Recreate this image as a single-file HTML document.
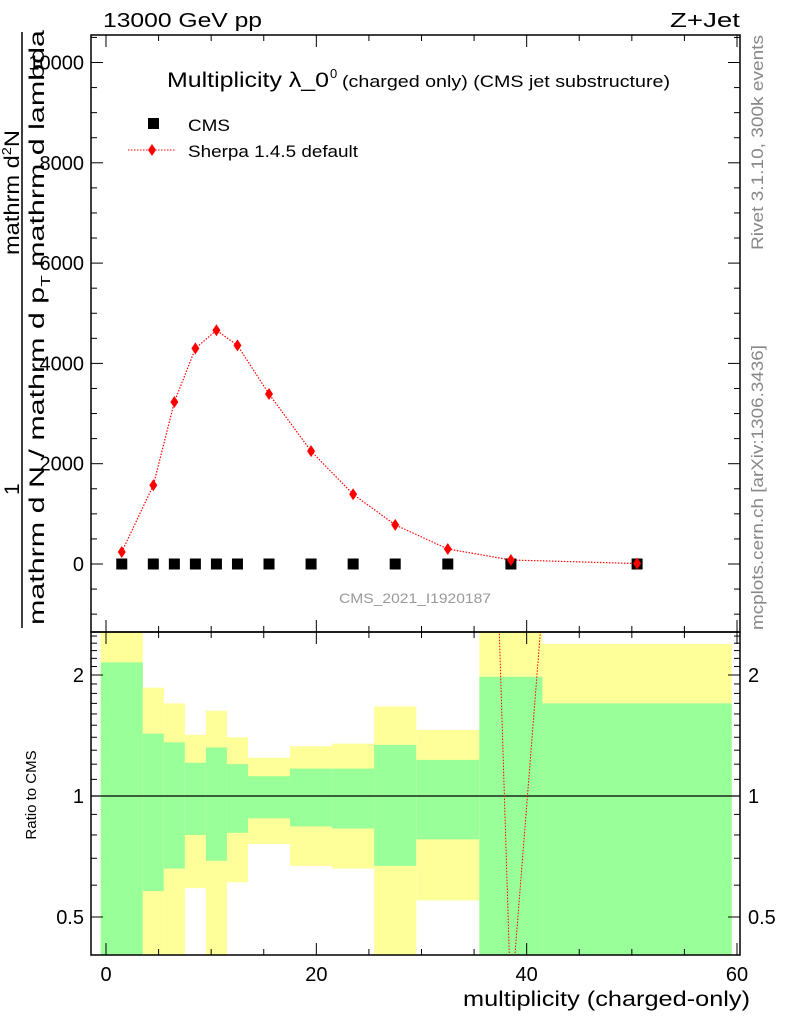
<!DOCTYPE html>
<html><head><meta charset="utf-8"><style>
body{margin:0;background:#fff}
svg{display:block;font-family:"Liberation Sans",sans-serif}
</style></head><body>
<svg id="chartsvg" width="786" height="1024" viewBox="0 0 786 1024" xmlns="http://www.w3.org/2000/svg">
<defs>
<clipPath id="rc"><rect x="91" y="632" width="649" height="323"/></clipPath>
<clipPath id="mc"><rect x="91" y="35" width="649" height="597"/></clipPath>
</defs>
<text x="103" y="27" font-size="20" textLength="159" lengthAdjust="spacingAndGlyphs">13000 GeV pp</text>
<text x="670" y="27" font-size="20" textLength="70" lengthAdjust="spacingAndGlyphs">Z+Jet</text>
<g>
<text x="167" y="87" font-size="21" textLength="162" lengthAdjust="spacingAndGlyphs">Multiplicity λ_0</text>
<text x="330" y="78" font-size="13">0</text>
<text x="342" y="87" font-size="17" textLength="328" lengthAdjust="spacingAndGlyphs">(charged only) (CMS jet substructure)</text>
</g>
<g>
<rect x="148" y="118" width="11" height="11" fill="#000"/>
<text x="188" y="131" font-size="17" textLength="42" lengthAdjust="spacingAndGlyphs">CMS</text>
<line x1="128" y1="150" x2="176" y2="150" stroke="red" stroke-dasharray="1.5,1.5"/>
<path d="M152,144 L156,150 L152,156 L148,150Z" fill="red"/>
<text x="188" y="157" font-size="17" textLength="170" lengthAdjust="spacingAndGlyphs">Sherpa 1.4.5 default</text>
</g>
<text x="339" y="603" font-size="14" fill="#999" textLength="152" lengthAdjust="spacingAndGlyphs">CMS_2021_I1920187</text>
<text transform="translate(763,250) rotate(-90)" font-size="17" fill="#888" textLength="215" lengthAdjust="spacingAndGlyphs">Rivet 3.1.10,  300k events</text>
<text transform="translate(763,630) rotate(-90)" font-size="17" fill="#888" textLength="285" lengthAdjust="spacingAndGlyphs">mcplots.cern.ch [arXiv:1306.3436]</text>
<g>
<text transform="translate(19,255) rotate(-90)" font-size="21" textLength="125" lengthAdjust="spacingAndGlyphs">mathrm d<tspan font-size="13" dy="-8">2</tspan><tspan dy="8">N</tspan></text>
<text transform="translate(19,495) rotate(-90)" font-size="21">1</text>
<line x1="22" y1="32" x2="22" y2="628" stroke="#000" stroke-width="1.5"/>
<text transform="translate(44,625) rotate(-90)" font-size="21" textLength="595" lengthAdjust="spacingAndGlyphs">mathrm d N / mathrm d p<tspan font-size="13" dy="6">T</tspan><tspan dy="-6">  mathrm d lambda</tspan></text>
</g>
<text transform="translate(36,795) rotate(-90)" font-size="15" text-anchor="middle">Ratio to CMS</text>
<text x="463" y="1006" font-size="21" textLength="287" lengthAdjust="spacingAndGlyphs">multiplicity (charged-only)</text>
<g id="bandsg" clip-path="url(#rc)"></g><g id="maing" clip-path="url(#mc)"></g><g id="axesg"></g>
</svg>
<script>
var xCenters=[1.5,4.5,6.5,8.5,10.5,12.5,15.5,19.5,23.5,27.5,32.5,38.5,50.5];
var cmsValues=[0,0,0,0,0,0,0,0,0,0,0,0,0];
var sherpaValues=[240,1570,3230,4300,4660,4360,3390,2250,1390,780,300,80,10];
var binEdges=[-0.5,3.5,5.5,7.5,9.5,11.5,13.5,17.5,21.5,25.5,29.5,35.5,41.5,59.5];
var greenUp=[2.15,1.43,1.36,1.21,1.32,1.20,1.12,1.17,1.17,1.34,1.23,1.98,1.70];
var greenLo=[0.3,0.58,0.66,0.80,0.69,0.81,0.88,0.84,0.83,0.67,0.78,0.3,0.3];
var yellowUp=[3,1.86,1.70,1.42,1.63,1.40,1.245,1.33,1.35,1.67,1.46,3,2.39];
var yellowLo=[0.3,0.3,0.3,0.59,0.3,0.61,0.76,0.67,0.66,0.3,0.55,0.3,0.3];
var ratioX=[32.5,38.5,50.5];
var ratioY=[35000,0.3,2900];
var xTicks=[0,20,40,60];
var yTicks=[0,2000,4000,6000,8000,10000];
var rTicks=[0.5,1,2];

(function(){
var NS="http://www.w3.org/2000/svg";
var PL=91,PR=740,PT=35,MB=632,RB=955;
function X(v){return 106+v*(631/60);}
function Y(v){return 564-v*0.05015;}
function RY(r){return 796-121*Math.log(r)/Math.LN2;}
function mk(p,tag,a){var e=document.createElementNS(NS,tag);for(var k in a)e.setAttribute(k,a[k]);p.appendChild(e);return e;}
var bands=document.getElementById('bandsg');
var main=document.getElementById('maing');
var ax=document.getElementById('axesg');
for(var i=0;i<binEdges.length-1;i++){
 var x1=X(binEdges[i]),x2=X(binEdges[i+1]);
 var yb=mk(bands,'rect',{x:x1,y:RY(yellowUp[i]),width:x2-x1,height:RY(yellowLo[i])-RY(yellowUp[i]),fill:'#ffff99'});
 
 
 var gb=mk(bands,'rect',{x:x1,y:RY(greenUp[i]),width:x2-x1,height:RY(greenLo[i])-RY(greenUp[i]),fill:'#99ff99'});
 
 
}
var rl=mk(bands,'line',{x1:PL,x2:PR,y1:RY(1),y2:RY(1),stroke:'#000','stroke-width':1.2});


var rpts=[];for(var j=0;j<ratioX.length;j++)rpts.push(X(ratioX[j])+','+RY(ratioY[j]));
var rline=mk(bands,'polyline',{points:rpts.join(' '),fill:'none',stroke:'red','stroke-dasharray':'1.5,1.5'});


var spts=[];for(var j=0;j<xCenters.length;j++)spts.push(X(xCenters[j])+','+Y(sherpaValues[j]));
var sl=mk(main,'polyline',{points:spts.join(' '),fill:'none',stroke:'red','stroke-dasharray':'1.5,1.5','stroke-width':1.2});


for(var j=0;j<xCenters.length;j++){
 var c=mk(main,'rect',{x:X(xCenters[j])-5.5,y:Y(cmsValues[j])-5.5,width:11,height:11,fill:'#000'});
 
 
 var px=X(xCenters[j]),py=Y(sherpaValues[j]);
 var d=mk(main,'path',{d:'M'+px+','+(py-6)+'L'+(px+4)+','+py+'L'+px+','+(py+6)+'L'+(px-4)+','+py+'Z',fill:'red'});
 
 
}
mk(ax,'rect',{x:PL,y:PT,width:PR-PL,height:MB-PT,fill:'none',stroke:'#000','stroke-width':1.5});
mk(ax,'rect',{x:PL,y:MB,width:PR-PL,height:RB-MB,fill:'none',stroke:'#000','stroke-width':1.5});
for(var v=0;v<=60;v+=5){var tx=X(v),len=v%20===0?12:6;
 mk(ax,'line',{x1:tx,x2:tx,y1:PT,y2:PT+len,stroke:'#000'});
 mk(ax,'line',{x1:tx,x2:tx,y1:MB,y2:MB-len,stroke:'#000'});
 mk(ax,'line',{x1:tx,x2:tx,y1:MB,y2:MB+len,stroke:'#000'});
 mk(ax,'line',{x1:tx,x2:tx,y1:RB,y2:RB-len,stroke:'#000'});}
for(var j=0;j<xTicks.length;j++){var t=mk(ax,'text',{x:X(xTicks[j]),y:981,'font-size':20,'text-anchor':'middle'});t.textContent=xTicks[j];
 
 }
for(var v=-1000;v<=10500;v+=500){var ty=Y(v);if(ty<PT||ty>MB)continue;var len=v%2000===0?12:6;
 mk(ax,'line',{x1:PL,x2:PL+len,y1:ty,y2:ty,stroke:'#000'});mk(ax,'line',{x1:PR,x2:PR-len,y1:ty,y2:ty,stroke:'#000'});}
for(var j=0;j<yTicks.length;j++){var t=mk(ax,'text',{x:84,y:Y(yTicks[j])+7,'font-size':20,'text-anchor':'end'});t.textContent=yTicks[j];
 
 }
var minors=[0.4,0.5,0.6,0.7,0.8,0.9,1,1.1,1.2,1.3,1.4,1.5,1.6,1.7,1.8,1.9,2,2.1,2.2,2.3,2.4,2.5];
for(var j=0;j<minors.length;j++){var r=minors[j],ry=RY(r);if(ry<MB||ry>RB)continue;
 var len=rTicks.indexOf(r)>=0?12:6;mk(ax,'line',{x1:PL,x2:PL+len,y1:ry,y2:ry,stroke:'#000'});mk(ax,'line',{x1:PR,x2:PR-len,y1:ry,y2:ry,stroke:'#000'});}
for(var j=0;j<rTicks.length;j++){var r=rTicks[j];
 var t=mk(ax,'text',{x:84,y:RY(r)+7,'font-size':20,'text-anchor':'end'});t.textContent=r;
 
 
 var t2=mk(ax,'text',{x:748,y:RY(r)+7,'font-size':20});t2.textContent=r;
 
 }
})();
</script>
</body></html>
